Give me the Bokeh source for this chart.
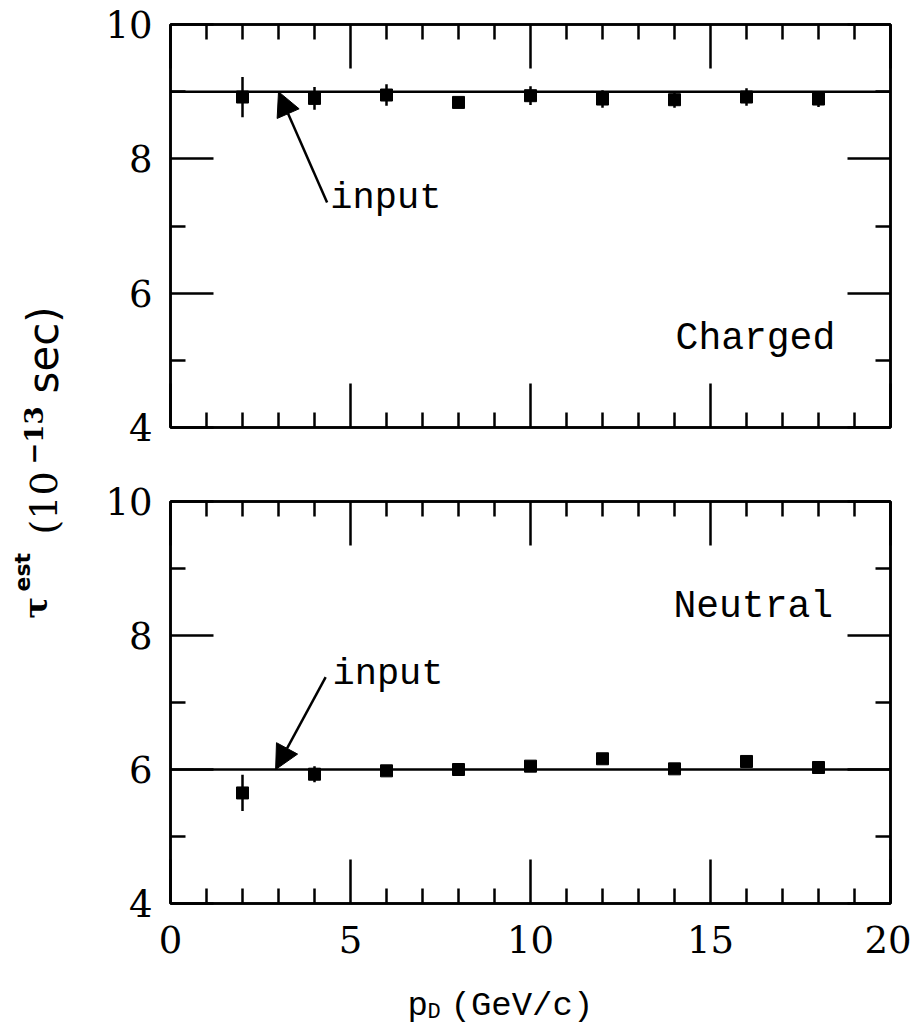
import math
from bokeh.plotting import figure
from bokeh.models import Range1d, LinearAxis, FixedTicker, Span, Arrow, NormalHead, Label, ColumnDataSource
from bokeh.layouts import row, column
from bokeh.embed import file_html
from bokeh.resources import INLINE

# ---------------- data ----------------
p_d = [2, 4, 6, 8, 10, 12, 14, 16, 18]
tau_charged = [8.92, 8.90, 8.95, 8.84, 8.94, 8.89, 8.88, 8.92, 8.89]
err_charged = [0.30, 0.17, 0.16, 0.08, 0.14, 0.13, 0.12, 0.13, 0.12]
tau_neutral = [5.65, 5.93, 5.98, 6.00, 6.05, 6.16, 6.01, 6.12, 6.03]
err_neutral = [0.27, 0.12, 0.06, 0.05, 0.04, 0.04, 0.04, 0.04, 0.04]
input_charged = 9.0
input_neutral = 6.0
x_ticks = [0, 5, 10, 15, 20]
x_minor = [1, 2, 3, 4, 6, 7, 8, 9, 11, 12, 13, 14, 16, 17, 18, 19]
y_ticks = [4, 6, 8, 10]
y_minor = [5, 7, 9]
panel_names = ["Charged", "Neutral"]

SERIF = "DejaVu Serif"
MONO = "Liberation Mono"
LW = 2.5


def style_axis(ax, major_in, minor_in, labels):
    ax.axis_line_width = LW
    ax.axis_line_color = "black"
    ax.major_tick_in = major_in
    ax.major_tick_out = 0
    ax.minor_tick_in = minor_in
    ax.minor_tick_out = 0
    ax.major_tick_line_width = LW
    ax.minor_tick_line_width = LW
    ax.major_tick_line_color = "black"
    ax.minor_tick_line_color = "black"
    if labels:
        ax.major_label_text_font = SERIF
        ax.major_label_text_font_size = "37px"
        ax.major_label_text_color = "black"
    else:
        ax.major_label_text_font_size = "0px"
        ax.major_label_text_color = None


def bare(fig):
    fig.xgrid.visible = False
    fig.ygrid.visible = False
    fig.outline_line_color = None
    fig.border_fill_color = "white"
    fig.background_fill_color = "white"


def make_panel(tau, err, inp, frame_h, b_top, b_bottom, xlabels):
    p = figure(frame_width=720, frame_height=frame_h,
               min_border_left=90, min_border_right=21,
               min_border_top=b_top, min_border_bottom=b_bottom,
               x_range=Range1d(0, 20), y_range=Range1d(4, 10),
               output_backend="svg", toolbar_location=None,
               x_axis_location=None, y_axis_location=None)
    bare(p)
    p.outline_line_color = "black"
    p.outline_line_width = LW

    xt = FixedTicker(ticks=x_ticks, minor_ticks=x_minor)
    yt = FixedTicker(ticks=y_ticks, minor_ticks=y_minor)

    for place, lab in (("below", xlabels), ("above", False)):
        ax = LinearAxis(ticker=xt)
        style_axis(ax, 44, 15, lab)
        if lab:
            ax.major_label_standoff = 22
        p.add_layout(ax, place)
    for place, lab in (("left", True), ("right", False)):
        ax = LinearAxis(ticker=yt)
        style_axis(ax, 43, 15, lab)
        if lab:
            ax.major_label_standoff = 18
        p.add_layout(ax, place)

    p.add_layout(Span(location=inp, dimension="width", line_color="black", line_width=LW))

    src = ColumnDataSource(dict(x=p_d, y=tau,
                                lo=[t - e for t, e in zip(tau, err)],
                                hi=[t + e for t, e in zip(tau, err)]))
    p.segment(x0="x", y0="lo", x1="x", y1="hi", source=src, line_color="black", line_width=LW)
    p.scatter(x="x", y="y", source=src, marker="square", size=12,
              fill_color="black", line_color="black")
    return p


top = make_panel(tau_charged, err_charged, input_charged, 403, 24, 38, False)
bot = make_panel(tau_neutral, err_neutral, input_neutral, 402, 36, 60, True)


def note(fig, x, y, text, size):
    fig.add_layout(Label(x=x, y=y, text=text, text_font=MONO, text_font_size=size,
                         text_baseline="alphabetic", text_color="black"))


# arrows and "input" notes
top.add_layout(Arrow(end=NormalHead(size=24, fill_color="black", line_color="black"),
                     x_start=4.35, y_start=7.35, x_end=3.0, y_end=input_charged,
                     line_width=LW, line_color="black"))
note(top, 4.44, 7.42, "input", "37px")
bot.add_layout(Arrow(end=NormalHead(size=24, fill_color="black", line_color="black"),
                     x_start=4.31, y_start=7.38, x_end=2.92, y_end=input_neutral,
                     line_width=LW, line_color="black"))
note(bot, 4.5, 7.42, "input", "37px")
note(top, 14.03, 5.33, panel_names[0], "38px")
note(bot, 13.97, 8.43, panel_names[1], "38px")

# x-axis title strip: p_D (GeV/c)   (frame aligned with the panels' frames)
XH = 63
xs = figure(frame_width=720, frame_height=XH, min_border=0,
            min_border_left=90, min_border_right=21,
            x_range=Range1d(0, 720), y_range=Range1d(0, XH),
            output_backend="svg", toolbar_location=None,
            x_axis_location=None, y_axis_location=None)
bare(xs)
for t, sx, y, fs in [("p", 237, 21, "34px"), ("D", 257, 14, "22px"), ("(GeV/c)", 280, 21, "34px")]:
    xs.add_layout(Label(x=sx, y=y, text=t, text_font=MONO, text_font_size=fs,
                        text_baseline="alphabetic", text_color="black"))

# y-axis title strip
H = 1026
lab = figure(frame_width=80, frame_height=H, min_border=0,
             x_range=Range1d(0, 80), y_range=Range1d(0, H),
             output_backend="svg", toolbar_location=None,
             x_axis_location=None, y_axis_location=None)
bare(lab)

a = math.pi / 2
pieces = [
    ("τ", 35, 618, "DejaVu Serif", "32px", "bold"),
    ("est", 22, 591, "DejaVu Sans", "22px", "bold"),
    ("(10", 43, 534, "DejaVu Serif", "38px", "normal"),
    ("−13", 33, 464, "DejaVu Serif", "26px", "bold"),
    ("sec)", 43, 393, "DejaVu Sans", "42px", "normal"),
]
for t, sx, sy, f, fs, st in pieces:
    lab.add_layout(Label(x=sx, y=H - sy, text=t, angle=a, text_font=f, text_font_size=fs,
                         text_font_style=st, text_baseline="alphabetic", text_align="left",
                         text_color="black"))

layout = row(lab, column(top, bot, xs))
open("out.html", "w").write(file_html(layout, INLINE))
